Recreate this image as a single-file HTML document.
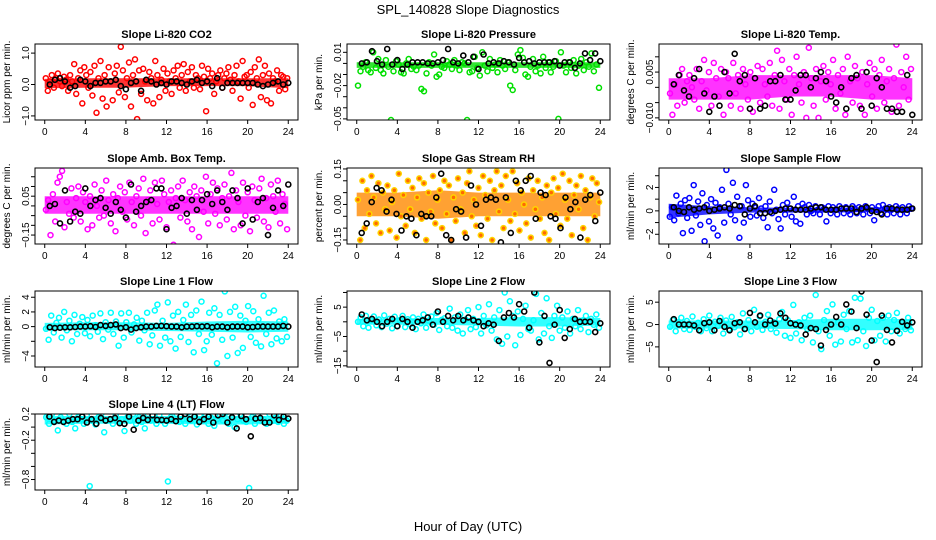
<!DOCTYPE html>
<html><head><meta charset="utf-8"><style>
html,body{margin:0;padding:0;background:#fff;}
svg{display:block;font-family:"Liberation Sans",Arial,sans-serif;}
</style></head><body>
<svg id="chart" width="936" height="540" viewBox="0 0 936 540">
<rect width="936" height="540" fill="#fff"/>
<text x="468" y="14" text-anchor="middle" font-size="13">SPL_140828  Slope Diagnostics</text>
<text x="468" y="531" text-anchor="middle" font-size="13">Hour of Day (UTC)</text>
</svg>
<script>
const titles = ["Slope Li-820 CO2","Slope Li-820 Pressure","Slope Li-820 Temp.","Slope Amb. Box Temp.","Slope Gas Stream RH","Slope Sample Flow","Slope Line 1 Flow","Slope Line 2 Flow","Slope Line 3 Flow","Slope Line 4 (LT) Flow"];
const yLabels = ["Licor ppm per min.","kPa per min.","degrees C per min.","degrees C per min.","percent per min.","ml/min per min.","ml/min per min.","ml/min per min.","ml/min per min.","ml/min per min."];
const xTicks = [0,4,8,12,16,20,24];
const coreHours = [0,4,8,12,16,20,24];

const c1 = [0.2,-0.2,0.1,0.3,-0.1,0.2,0.35,0.1,-0.05,0.25,0.15,-0.2,0.3,0.1,0.65,-0.3,0.2,0.45,-0.6,0.55,0.3,-0.1,0.4,-0.35,0.6,-0.9,0.2,0.75,-0.45,0.3,-0.7,0.55,0.1,-0.5,0.35,0.6,-0.25,1.2,0.45,-0.4,0.2,0.7,-0.7,0.3,0.8,-1.1,0.45,-0.3,0.5,0.1,-0.5,0.4,0.2,-0.6,0.75,0.3,-0.4,0.15,0.5,-0.2,0.35,0.1,-0.3,0.45,0.2,0.6,-0.1,0.3,0.65,-0.2,0.4,0.1,0.55,-0.1,0.3,0.2,-0.15,0.6,0.25,-0.85,0.5,0.2,0.35,-0.3,0.1,0.3,0.45,-0.1,0.2,0.35,0.55,0.15,-0.2,0.3,0.6,0.1,-0.45,0.75,0.25,0.3,-0.1,0.4,-0.65,0.55,0.2,0.8,-0.4,0.3,0.6,-0.5,0.35,-0.6,0.2,0.1,0.45,-0.2,0.3,0.25,-0.15,0.2];
const b1 = [0.0,0.15,0.2,0.1,-0.1,-0.05,0.15,0.1,-0.05,0.05,0.05,0.1,0.1,0.15,-0.05,-0.15,0.05,0.1,-0.2,0.15,0.1,0,0.05,0,0.1,0.1,0.05,0,0.1,0.15,0.05,0.1,-0.05,0.2,-0.1,0.05,0.05,0.05,0.05,0.05,0.05,0,-0.05,0,0.05,0.1,0,0.05];
const c2 = [-0.02,-0.007,-0.003,0.001,-0.006,-0.008,0.01,-0.004,0.004,-0.006,-0.009,0.003,-0.003,-0.051,-0.007,0.002,-0.001,-0.008,-0.009,0,0.004,-0.005,-0.003,-0.006,-0.002,-0.023,-0.025,-0.009,0.001,-0.002,0.008,-0.012,-0.01,-0.003,-0.004,0.002,-0.001,-0.005,0.003,-0.002,-0.006,0.001,0,-0.051,-0.008,-0.007,0.006,-0.004,-0.011,0.01,-0.002,-0.007,0.004,-0.004,-0.001,-0.008,0.003,-0.002,-0.005,0.001,-0.02,-0.024,-0.006,0.008,0.012,0.005,-0.01,-0.012,-0.003,0.004,-0.007,-0.002,-0.009,0.006,-0.004,0.001,-0.008,-0.003,0.002,-0.05,0.01,-0.002,-0.008,0.001,-0.004,0.003,-0.009,-0.002,0.004,-0.006,0.001,-0.003,0.009,-0.007,-0.001,-0.022];
const b2 = [0,0.001,0.011,0.002,-0.001,0.013,-0.001,0.003,-0.005,-0.001,0.001,0.001,0.001,0,0,0.001,0.003,0.013,0.001,0,0.007,0.001,0.006,-0.005,0.008,0,0.001,0,0.002,0.001,-0.001,0.005,0.001,0.002,0,0.001,0.001,0.001,0.002,-0.002,0.001,0.001,-0.004,0,0.009,0.003,0.009,0.002];
const c3 = [-0.002,-0.009,0.001,-0.006,0.004,0.006,-0.005,0.002,0.004,0.0,-0.004,0.006,-0.007,0.002,0.009,-0.001,0.005,-0.006,0.008,0.003,-0.003,0.006,-0.009,0.005,0.003,-0.006,0.008,-0.002,0.004,-0.007,0.006,0.001,-0.004,0.005,-0.008,0.003,0.007,-0.005,0.006,0.001,-0.003,0.008,-0.006,0.004,0.012,-0.007,0.009,0.002,-0.004,0.006,-0.009,0.004,0.01,0.001,-0.005,0.005,-0.01,0.013,0.003,-0.006,0.006,-0.010,0.002,0.007,-0.004,0.005,0.001,0.009,-0.007,0.004,-0.002,0.006,-0.009,0.01,0.002,-0.005,0.007,0.003,-0.006,0.005,-0.009,0.001,0.008,-0.003,0.006,-0.007,0.004,0.009,-0.005,0.002,0.006,-0.008,0.003,0.014,-0.006,0.005,0.0,0.01,-0.004,0.006];
const b3 = [0.001,0.004,-0.001,-0.003,0.003,0.006,-0.002,-0.008,-0.003,-0.006,0.005,-0.002,0.011,0.002,0.004,-0.007,0.003,-0.007,-0.006,0.002,0.002,0.004,-0.004,-0.004,-0.001,0.004,0.004,0.0,0.003,0.005,0.002,-0.003,-0.005,0,-0.007,0.003,0.004,-0.007,0.005,-0.006,0.003,0.0,-0.007,-0.007,-0.008,-0.008,0.004,-0.009];
const c4 = [-0.02,0.03,-0.15,0.06,-0.08,0.12,0.15,0.18,-0.11,0.02,-0.04,0.09,-0.06,0.04,0.1,-0.08,0.07,0.02,-0.12,0.05,-0.1,0.11,0.0,-0.06,0.08,-0.05,0.13,0.03,-0.09,0.06,-0.13,0.04,0.1,-0.03,0.07,-0.07,0.12,0.02,-0.1,0.05,0.09,-0.05,0.14,-0.14,0.03,0.08,-0.09,0.12,0.01,-0.07,0.13,0.06,-0.11,0.02,0.08,-0.2,0.04,0.1,-0.06,0.13,0.03,-0.08,0.07,-0.12,0.1,0.05,-0.16,0.08,-0.03,0.15,-0.09,0.06,0.12,-0.04,0.09,-0.1,0.04,0.11,-0.07,0.05,0.17,-0.12,0.08,0.02,-0.1,0.12,-0.05,0.07,-0.13,0.1,0.03,-0.06,0.09,0.14,-0.08,0.04,-0.11,0.11,0.05,-0.03,0.13,-0.09,0.06,0.01,-0.12];
const b4 = [0,0.01,-0.09,0.08,-0.08,-0.03,-0.04,0.09,0.0,0.03,0.04,-0.01,-0.04,0.02,-0.02,-0.06,0.11,-0.03,0.0,0.02,0.03,0.09,0.09,-0.12,-0.01,0.0,0.04,-0.04,0.03,-0.02,0.03,0.06,0.01,0.08,0.02,-0.02,0.08,0.04,-0.09,0.09,-0.07,0.02,0.04,-0.15,-0.01,0.08,0.0,0.11];
const c5 = [0.02,-0.15,0.1,-0.1,0.06,-0.04,0.12,0.03,-0.08,0.09,-0.12,0.05,-0.02,0.08,-0.11,0.01,0.06,-0.14,0.13,-0.05,0.04,-0.09,0.1,-0.02,0.07,-0.12,0.03,0.11,-0.06,0.09,-0.15,0.05,-0.03,0.12,-0.08,0.02,0.06,-0.1,0.1,-0.04,0.08,-0.15,0.03,-0.07,0.11,-0.02,0.05,-0.12,0.09,0.14,-0.05,0.02,-0.09,0.07,-0.13,0.12,0.04,-0.06,0.1,-0.15,0.06,0.14,-0.03,0.08,-0.1,0.12,0.02,-0.07,0.14,-0.04,0.09,-0.11,0.05,0.0,-0.08,0.11,-0.14,0.06,-0.02,0.1,-0.06,0.03,-0.12,0.08,-0.15,0.05,0.11,-0.04,0.07,-0.09,0.13,0.02,-0.06,0.1,-0.13,0.04,0.08,-0.02,0.12,-0.1,0.06,-0.15,0.03,0.11,-0.05,0.09,0.01];
const b5 = [-0.12,-0.08,0.01,0.07,0.06,-0.03,0.02,-0.04,-0.11,-0.05,-0.06,-0.13,-0.04,-0.05,-0.05,0.03,0.13,-0.13,-0.15,-0.02,-0.03,-0.14,0.08,0.0,-0.09,0.02,0.03,0.02,-0.16,0.03,-0.12,0.1,0.06,0.1,0.12,-0.06,0.05,0.04,-0.05,-0.06,-0.1,0.03,-0.02,0.01,-0.14,0.02,0.04,-0.07,0.05];
const c6 = [-0.5,0.3,-0.8,1.3,-0.2,0.6,-1.9,0.9,-0.6,1.1,-1.7,2.2,-0.4,0.8,-1.2,1.5,-2.6,0.5,-0.9,1.0,-1.5,0.7,-2.1,0.3,1.8,-1.0,3.5,0.6,-0.3,2.4,-0.8,1.2,-2.3,0.4,-1.0,2.2,0.9,-0.5,0.6,0.3,-0.4,1.1,0.2,-0.6,0.4,-1.4,0.8,-0.2,1.8,0.1,-0.7,-1.5,0.5,-0.3,0.7,0.2,-0.5,1.2,-0.9,0.4,-1.1,0.6,0.3,-0.3,0.5,0.0,-0.2,0.4,0.1,-0.3,0.3,0.2,-0.9,0.4,-0.2,0.3,0.1,-0.3,0.4,0.2,-0.2,0.3,0.0,-0.3,0.4,0.2,-0.2,0.3,0.1,-0.3,0.4,0.2,-0.2,0.3,-0.8,0.1,0.4,-0.2,0.5,0.2,-0.3,0.3,0.1,-0.2,0.4,0.2,-0.3,0.3,0.1,-0.2,0.4,0.2];
const b6 = [0.3,0.0,-0.1,0.3,0.1,0.2,0.3,0.0,0.1,0.2,0.3,0.2,0.5,0.4,-0.3,0.2,0.4,-0.2,-0.2,-0.1,0.0,0.1,0.2,0.2,0.1,0.1,0.1,0.2,0.3,0.3,0.1,0.1,0.1,0.2,0.2,0.2,-0.1,0.2,0.3,0.0,-0.1,-0.3,0.2,0.2,0.1,0.1,0.1,0.2];
const c7 = [-0.3,-1.8,1.5,-0.8,0.5,1.2,-1.5,2.0,-0.5,0.8,-2.0,1.6,-1.0,0.4,1.3,-0.9,0.9,-1.3,1.5,0.2,-0.7,1.8,-1.7,0.6,-0.4,1.9,-1.0,0.7,-2.6,1.8,-1.5,0.6,1.9,-0.8,0.3,1.2,-1.9,0.8,-0.5,1.9,-2.4,-1.2,2.2,3.0,-2.6,0.8,-1.5,3.3,-2.0,1.5,-3.0,2.0,-1.4,0.9,3.0,-2.1,1.6,-3.5,2.2,-1.0,3.4,-3.2,-2.0,1.9,-1.1,2.5,-5.0,1.6,-1.8,4.8,-4.0,2.0,-1.5,2.7,-3.6,1.5,-2.9,0.8,2.8,-1.4,2.1,-2.2,1.0,-2.7,4.2,-1.0,1.9,-2.4,2.2,-1.6,0.7,-2.0,1.0,-1.4];
const b7 = [-0.1,-0.2,-0.15,-0.1,-0.1,-0.05,0.0,0.0,0.05,-0.05,0.2,0.1,0.2,0.3,-0.2,-0.1,-0.4,-0.2,-0.1,0.0,0.0,0.1,0.1,0.05,0.0,0.0,-0.1,0.0,0.0,0.05,0.0,0.05,-0.1,0.0,0.0,-0.1,0.0,0.0,0.0,-0.1,-0.05,0.0,0.0,0.0,0.0,0.0,0.1,0.0];
const c8 = [0,1.5,-1.5,2.0,-2.0,0.5,1.8,-1.2,0.8,-1.8,2.2,-0.6,1.0,-2.2,1.7,-1.4,0.6,2.0,-1.8,0.9,-0.8,1.5,-2.5,1.0,-0.5,2.5,-2.0,0.4,1.8,-1.0,3.0,-2.8,0.7,1.2,-1.5,4.5,-2.0,1.5,-3.0,2.5,-4.0,0.8,4.0,-2.5,1.0,-1.8,5.0,-4.0,2.0,-1.2,6.0,-3.0,1.5,-6.0,4.0,-7.5,10.0,-5.0,7.0,2.0,-8.0,3.5,-4.5,1.0,5.5,-2.5,-3.0,0.5,9.5,-6.0,3.0,-4.0,8.0,-1.5,-5.5,2.0,5.5,-3.0,1.5,-2.0,3.5,-4.0,1.0,-1.5,4.0,-2.5,0.5,2.0,-3.5,1.0,-1.0,2.5,-2.0];
const b8 = [2.5,0.5,1.0,0.0,-1.5,0.0,1.0,-1.5,1.0,0.0,-2.0,0.0,0.5,1.5,-1.0,3.5,0.0,2.0,0.5,2.0,0.5,1.5,0.5,0.0,-1.5,-0.5,-1.0,-6.5,1.5,3.0,1.5,6.0,3.5,-2.0,10.0,-7.0,2.0,-14.0,-1.0,4.0,-5.5,-2.5,1.0,0.0,0.0,0.0,-3.5,-0.5];
const c9 = [-0.5,1.0,-1.5,0.5,1.5,-1.0,0.8,-1.2,1.8,-0.5,0.4,-1.5,1.2,-0.8,2.0,-1.5,0.6,-0.3,1.5,-2.0,0.9,-1.0,1.7,-0.6,0.5,-2.2,2.5,-0.8,1.0,-1.5,3.3,-0.5,1.8,-1.2,0.6,2.2,-1.0,0.5,-1.8,1.2,2.8,-2.5,1.0,-3.0,4.4,-2.0,0.5,-3.5,1.5,-1.0,2.0,-4.0,6.6,-1.5,-5.5,1.0,3.0,-2.5,4.5,-4.5,0.5,-3.8,2.2,-1.0,3.0,-4.0,6.0,-3.5,5.8,-1.5,-4.8,1.5,3.3,-3.5,0.8,-2.5,1.5,-3.8,2.0,-1.5,1.0,2.6,-2.0,0.5,-1.0,1.5,-1.3];
const b9 = [1.2,0,0,0,-0.2,-1.3,0.3,0.5,-1.3,0.8,-0.5,-1.3,0.3,0.5,-1.0,2.6,0.5,2.0,0,0.9,0.2,2.5,1.5,0.3,0,-0.2,-2.2,-0.8,-1.0,-4.7,-1.2,0,1.7,0,4.5,2.9,-0.8,7.4,2.2,-3.6,-8.4,2.0,-1.2,-4.0,-1.4,0.6,-0.2,0.5];
const c10 = [0.15,0.05,0.2,0.1,-0.05,0.15,0.1,0.05,0.2,0.08,-0.02,0.15,0.12,0.05,0.18,-0.9,0.1,0.04,0.15,0.2,-0.08,0.1,0.12,0.05,0.18,0.08,0.12,-0.06,0.15,0.1,0.2,0.05,0.15,0.08,-0.02,0.2,0.1,0.12,0.05,0.18,0.1,0.05,-0.83,0.15,0.1,0.2,0.08,0.12,0.05,0.22,0.1,0.15,0.04,0.18,0.1,0.2,0.05,0.14,0.02,0.12,0.18,0.1,0.22,0.05,0.15,0.0,0.12,0.2,0.1,0.08,-0.93,0.15,0.05,0.18,0.1,0.12,0.05,0.2,0.1,0.14,0.08,0.18,0.05,0.1];
const b10 = [0.16,0.08,0.1,0.08,0.1,0.12,0.12,0.16,0.07,0.12,0.05,0.14,0.1,0.12,0.14,0.06,0.05,0.16,-0.04,0.1,0.14,0.11,0.18,0.11,0.11,0.1,0.12,0.09,0.16,0.2,0.12,0.16,0.08,0.12,0.16,0.07,0.18,0.2,0.07,0.15,-0.02,0.17,0.12,-0.14,0.13,0.14,0.07,0.07,0.18,0.11,0.16,0.13];

const coreLo = [[-0.12,-0.1,-0.1,-0.05,-0.05,-0.05,-0.12],[-0.004,-0.004,-0.004,-0.004,-0.004,-0.004,-0.004],[-0.004,-0.004,-0.004,-0.003,-0.003,-0.004,-0.004],[-0.04,-0.04,-0.04,-0.04,-0.04,-0.04,-0.04],[-0.05,-0.05,-0.06,-0.05,-0.05,-0.05,-0.05],[-0.6,-0.3,-0.15,-0.15,-0.15,-0.1,-0.1],[-0.5,-0.5,-0.5,-0.6,-0.7,-0.8,-0.7],[-1.0,-1.0,-1.0,-1.3,-1.6,-1.6,-1.3],[-0.9,-0.9,-0.9,-1.0,-1.3,-1.3,-1.2],[0.04,0.05,0.05,0.05,0.04,0.04,0.05]];
const coreHi = [[0.18,0.2,0.2,0.2,0.2,0.2,0.2],[0.001,0.001,0.001,0.001,0.001,0.001,0.001],[0.003,0.003,0.004,0.004,0.004,0.004,0.003],[0.05,0.05,0.05,0.05,0.05,0.05,0.05],[0.05,0.05,0.06,0.05,0.05,0.05,0.05],[0.6,0.4,0.3,0.25,0.25,0.3,0.3],[0.5,0.6,0.6,0.5,0.7,0.8,0.7],[1.0,1.2,1.3,1.3,1.6,1.6,1.3],[0.9,0.9,0.9,1.0,1.3,1.3,1.2],[0.17,0.17,0.17,0.17,0.17,0.17,0.17]];

const yRanges = [[-1.13,1.29],[-0.051,0.0175],[-0.0107,0.0142],[-0.196,0.195],[-0.167,0.154],[-2.83,3.66],[-5.5,4.85],[-15.4,10.5],[-9.5,7.5],[-0.96,0.2]];
const yTicks = [[-1,0,1],[0.01,0,-0.01,-0.02,-0.03,-0.04,-0.05],[0.01,0.005,0,-0.005,-0.01],[0.15,0.1,0.05,0,-0.05,-0.1,-0.15],[0.15,0.1,0.05,0,-0.05,-0.1,-0.15],[3,2,1,0,-1,-2],[4,2,0,-2,-4],[10,5,0,-5,-10,-15],[5,0,-5],[0.2,0,-0.2,-0.4,-0.6,-0.8]];
const yTickLabels = [["−1.0","0.0","1.0"],["0.01","","","−0.02","","","−0.05"],["","0.005","","","−0.010"],["","","0.05","","","","−0.15"],["0.15","","","0.00","","","−0.15"],["","2","","0","","−2"],["4","2","0","","−4"],["","5","","−5","","−15"],["5","0","−5"],["0.2","","−0.2","","","−0.8"]];
const colorSeries = [c1,c2,c3,c4,c5,c6,c7,c8,c9,c10];
const blackSeries = [b1,b2,b3,b4,b5,b6,b7,b8,b9,b10];
const colors = ["#ff0000","#00e000","#ff00ff","#ff00ff","#ffd400","#0000ff","#00ffff","#00ffff","#00ffff","#00ffff"];
const coreColors = ["#ff0000","#00dd00","#ff00ff","#ff00ff","#ff8a00","#0000ff","#00ffff","#00ffff","#00ffff","#00ffff"];

const NS = "http://www.w3.org/2000/svg";
const svg = document.getElementById("chart");
const colLeft = [35,347,659];
const rowTop = [44,168,291,414];
const W = 263, H = 76;
function mk(tag, parent){const e=document.createElementNS(NS,tag);parent.appendChild(e);return e;}

for (let p=0;p<10;p++){
  const L = colLeft[p%3], T = rowTop[Math.floor(p/3)];
  const g = mk("g", svg);
  
  
  const xs = h => L + (h + 0.96) / 25.92 * W;
  const [ymin,ymax] = yRanges[p];
  const ys = v => T + H - (v - ymin) / (ymax - ymin) * H;
  const clip = mk("clipPath", g); clip.setAttribute("id","clip"+p);
  const cr = mk("rect", clip); cr.setAttribute("x",L); cr.setAttribute("y",T); cr.setAttribute("width",W); cr.setAttribute("height",H);
  const plot = mk("g", g); plot.setAttribute("clip-path","url(#clip"+p+")");
  
  
  const lo = coreLo[p], hi = coreHi[p];
  let pts = [];
  for (let i=0;i<coreHours.length;i++) pts.push(xs(coreHours[i]).toFixed(1)+","+ys(hi[i]).toFixed(1));
  for (let i=coreHours.length-1;i>=0;i--) pts.push(xs(coreHours[i]).toFixed(1)+","+ys(lo[i]).toFixed(1));
  const band = mk("polygon", plot);
  band.setAttribute("points", pts.join(" "));
  band.setAttribute("fill", coreColors[p]);
  band.setAttribute("fill-opacity", "0.8");
  
  
  const cs = colorSeries[p];
  for (let i=0;i<cs.length;i++){
    const c = mk("circle", plot);
    c.setAttribute("cx", xs((i+0.5)*24/cs.length).toFixed(1));
    c.setAttribute("cy", ys(cs[i]).toFixed(1));
    c.setAttribute("r", 2.5);
    c.setAttribute("fill", p===4 ? "#ff6a00" : "none");
    c.setAttribute("stroke", colors[p]);
    c.setAttribute("stroke-width", 1.5);
    
    
  }
  const bs = blackSeries[p];
  for (let i=0;i<bs.length;i++){
    const c = mk("circle", plot);
    c.setAttribute("cx", xs((i+1)*24/bs.length).toFixed(1));
    c.setAttribute("cy", ys(bs[i]).toFixed(1));
    c.setAttribute("r", 2.5);
    c.setAttribute("fill", "none");
    c.setAttribute("stroke", "#000");
    c.setAttribute("stroke-width", 1.6);
    
    
  }
  const box = mk("rect", g);
  box.setAttribute("x",L); box.setAttribute("y",T); box.setAttribute("width",W); box.setAttribute("height",H);
  box.setAttribute("fill","none"); box.setAttribute("stroke","#000"); box.setAttribute("stroke-width",1);
  
  
  const t = mk("text", g);
  t.setAttribute("x", L + W/2); t.setAttribute("y", T - 6);
  t.setAttribute("text-anchor","middle"); t.setAttribute("font-size","11"); t.setAttribute("font-weight","bold");
  t.textContent = titles[p];
  
  
  for (const h of xTicks){
    const x = xs(h);
    const tk = mk("line", g);
    tk.setAttribute("x1",x); tk.setAttribute("x2",x); tk.setAttribute("y1",T+H); tk.setAttribute("y2",T+H+4);
    tk.setAttribute("stroke","#000");
    
    
    const lb = mk("text", g);
    lb.setAttribute("x",x); lb.setAttribute("y",T+H+15);
    lb.setAttribute("text-anchor","middle"); lb.setAttribute("font-size","10");
    lb.textContent = h;
    
    
  }
  const yt = yTicks[p], yl = yTickLabels[p];
  for (let i=0;i<yt.length;i++){
    const y = ys(yt[i]);
    const tk = mk("line", g);
    tk.setAttribute("x1",L-4); tk.setAttribute("x2",L); tk.setAttribute("y1",y); tk.setAttribute("y2",y);
    tk.setAttribute("stroke","#000");
    
    
    if (yl[i]){
      const lb = mk("text", g);
      lb.setAttribute("transform","translate("+(L-6)+","+y.toFixed(1)+") rotate(-90)");
      lb.setAttribute("text-anchor","middle"); lb.setAttribute("font-size","10");
      lb.textContent = yl[i];
      
      
    }
  }
  const ylab = mk("text", g);
  ylab.setAttribute("transform","translate("+(L-25)+","+(T+H/2)+") rotate(-90)");
  ylab.setAttribute("text-anchor","middle"); ylab.setAttribute("font-size","10");
  ylab.textContent = yLabels[p];
  
  
}
</script>
</body></html>
